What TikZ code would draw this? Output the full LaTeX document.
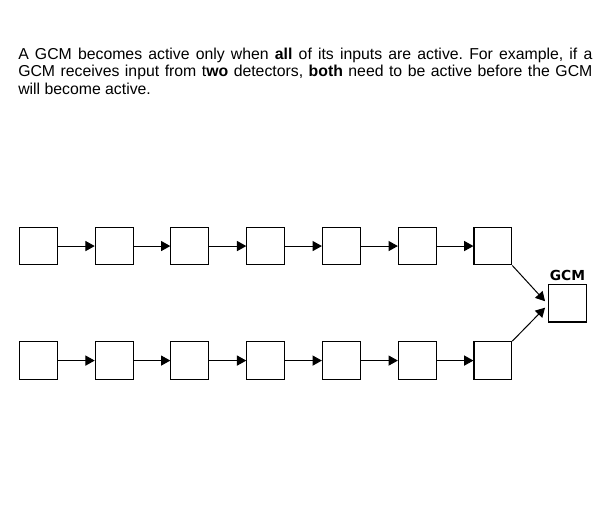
\documentclass[tikz,border=0pt]{standalone}
\usepackage{fontspec}
\setmainfont{Liberation Sans}
\newfontfamily\labelfont{DejaVu Sans}
\usetikzlibrary{arrows.meta}

\begin{document}
\begin{tikzpicture}[>={Triangle[length=7pt,width=7.6pt]},
  cell/.style={rectangle,minimum size=1cm,inner sep=0pt,draw,line width=0.8pt},
  link/.style={->,line width=0.75pt}]
\useasboundingbox (0,0) rectangle (16.007,-14.023);
\path (0.476,-1.27) node[anchor=north west,inner sep=0pt,text width=15.19cm,align=justify,
  font=\fontsize{11.9pt}{13pt}\selectfont\frenchspacing] (intro)
  {A GCM becomes active only when \textbf{all} of its inputs are active. For example, if a\linebreak
   GCM receives input from t\textbf{wo} detectors, \textbf{both} need to be active before the GCM\linebreak
   will become active.};

% top chain
\path (1.01,-6.51) node[cell] (t1) {};
\path (3.02,-6.51) node[cell] (t2) {};
\draw[link] (t1) -- (t2);
\path (5.02,-6.51) node[cell] (t3) {};
\draw[link] (t2) -- (t3);
\path (7.03,-6.51) node[cell] (t4) {};
\draw[link] (t3) -- (t4);
\path (9.03,-6.51) node[cell] (t5) {};
\draw[link] (t4) -- (t5);
\path (11.04,-6.51) node[cell] (t6) {};
\draw[link] (t5) -- (t6);
\path (13.04,-6.51) node[cell] (t7) {};
\draw[link] (t6) -- (t7);

% bottom chain
\path (1.01,-9.54) node[cell] (b1) {};
\path (3.02,-9.54) node[cell] (b2) {};
\draw[link] (b1) -- (b2);
\path (5.02,-9.54) node[cell] (b3) {};
\draw[link] (b2) -- (b3);
\path (7.03,-9.54) node[cell] (b4) {};
\draw[link] (b3) -- (b4);
\path (9.03,-9.54) node[cell] (b5) {};
\draw[link] (b4) -- (b5);
\path (11.04,-9.54) node[cell] (b6) {};
\draw[link] (b5) -- (b6);
\path (13.04,-9.54) node[cell] (b7) {};
\draw[link] (b6) -- (b7);

% GCM
\path (15.015,-8.02) node[cell,label={[inner sep=1.8pt,font=\labelfont\bfseries\fontsize{10.4pt}{12pt}\selectfont]above:GCM}] (gcm) {};
\draw[link] (t7.south east) -- ([shift={(-0.08,0.05)}]gcm.west);
\draw[link] (b7.north east) -- ([shift={(-0.08,-0.12)}]gcm.west);
\end{tikzpicture}
\end{document}
